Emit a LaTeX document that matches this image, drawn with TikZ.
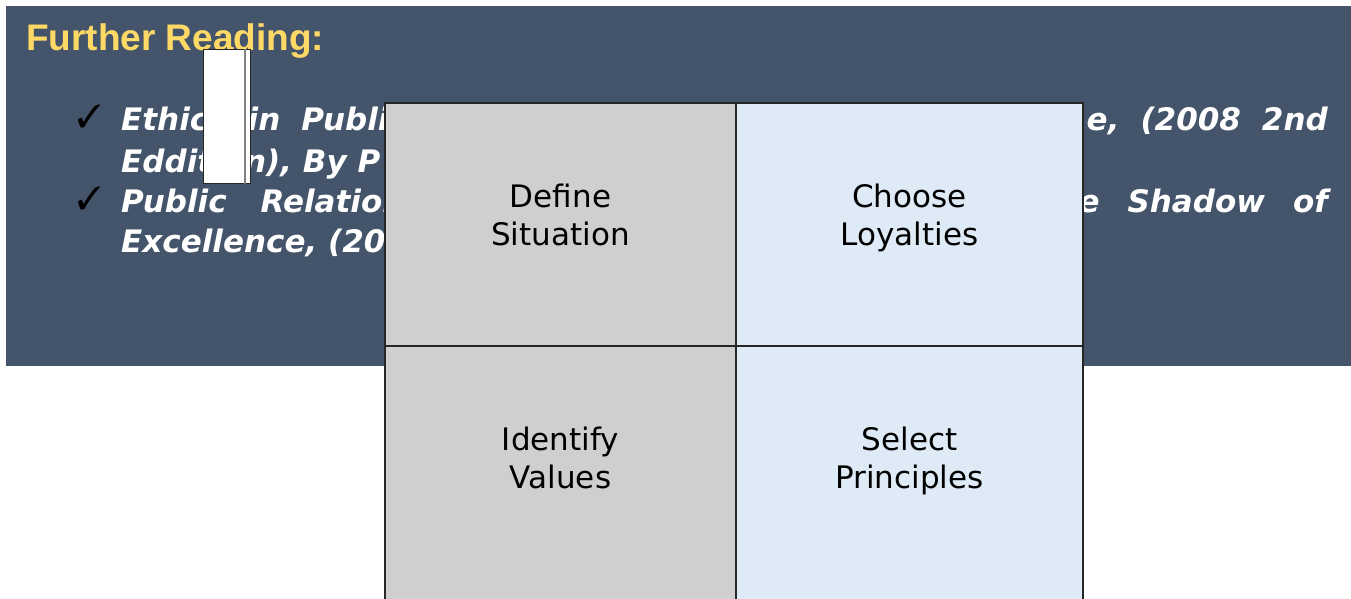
\documentclass[tikz,border=0pt]{standalone}
\usepackage{fontspec}
\usepackage{pifont}
\setmainfont{DejaVu Sans}
\newfontfamily\headfont{Liberation Sans}

\definecolor{slate}{HTML}{44546A}
\definecolor{gold}{HTML}{FFD966}
\definecolor{cellgray}{HTML}{D0CECE}
\definecolor{cellblue}{HTML}{DEEAF6}
\definecolor{gridline}{HTML}{262626}

\tikzset{
  heading/.style={anchor=base west, inner sep=0, text=gold,
    font=\headfont\bfseries\fontsize{37}{40}\selectfont},
  tick/.style={anchor=base west, inner sep=0, font=\fontsize{32}{32}\selectfont},
  reading/.style={inner sep=0, text=white,
    font=\fontsize{31}{36}\selectfont\bfseries\itshape},
  cell/.style={draw=gridline, line width=1.3pt, inner sep=0},
  celltext/.style={anchor=north, align=center, inner sep=0, font=\fontsize{31}{38}\selectfont}
}

\begin{document}
\begin{tikzpicture}[x=1pt,y=-1pt]
  \useasboundingbox (0,0) rectangle (1351,599);
  \clip (0,0) rectangle (1351,599);

  % slide panel
  \fill[slate] (6,6) rectangle (1351,366);
  \node[heading] (title) at (26,51) {Further Reading:};

  % reading list, two entries
  \node[tick] (tickA) at (77,128) {\ding{51}};
  \node[tick] (tickB) at (77,209) {\ding{51}};
  \node[reading, anchor=base west] (lineA) at (121,131) {\spaceskip=21pt Ethics in Public};
  \node[reading, anchor=base east] (endA) at (1328,131) {\spaceskip=21pt e, (2008 2nd};
  \node[reading, anchor=base west] (lineB) at (121,172) {Eddition), By P};
  \node[reading, anchor=base west] (lineC) at (121,212) {\spaceskip=34pt Public Relations};
  \node[reading, anchor=base east] (endC) at (1328,212) {\spaceskip=28pt e Shadow of};
  \node[reading, anchor=base west] (lineD) at (121,252) {Excellence, (20};

  % four step grid, lower row runs off the page
  \node[cell, fill=cellgray, minimum width=351, minimum height=243] (define) at (560.5,224.5) {};
  \node[cell, fill=cellblue, minimum width=347, minimum height=243] (choose) at (909.5,224.5) {};
  \node[cell, fill=cellgray, minimum width=351, minimum height=274] (identify) at (560.5,483) {};
  \node[cell, fill=cellblue, minimum width=347, minimum height=274] (select) at (909.5,483) {};

  \node[celltext] (defineText) at ([yshift=-81]define.north) {Define\\Situation};
  \node[celltext] (chooseText) at ([yshift=-81]choose.north) {Choose\\Loyalties};
  \node[celltext] (identifyText) at ([yshift=-81]identify.north) {Identify\\Values};
  \node[celltext] (selectText) at ([yshift=-81]select.north) {Select\\Principles};

  % blank page marker
  \node[draw=black!85, line width=1pt, fill=white, minimum width=47, minimum height=133, inner sep=0] (page) at (227,116.5) {};
  \draw[gray, line width=1.5pt] ([xshift=-6]page.north east) -- ([xshift=-6]page.south east);
\end{tikzpicture}
\end{document}
